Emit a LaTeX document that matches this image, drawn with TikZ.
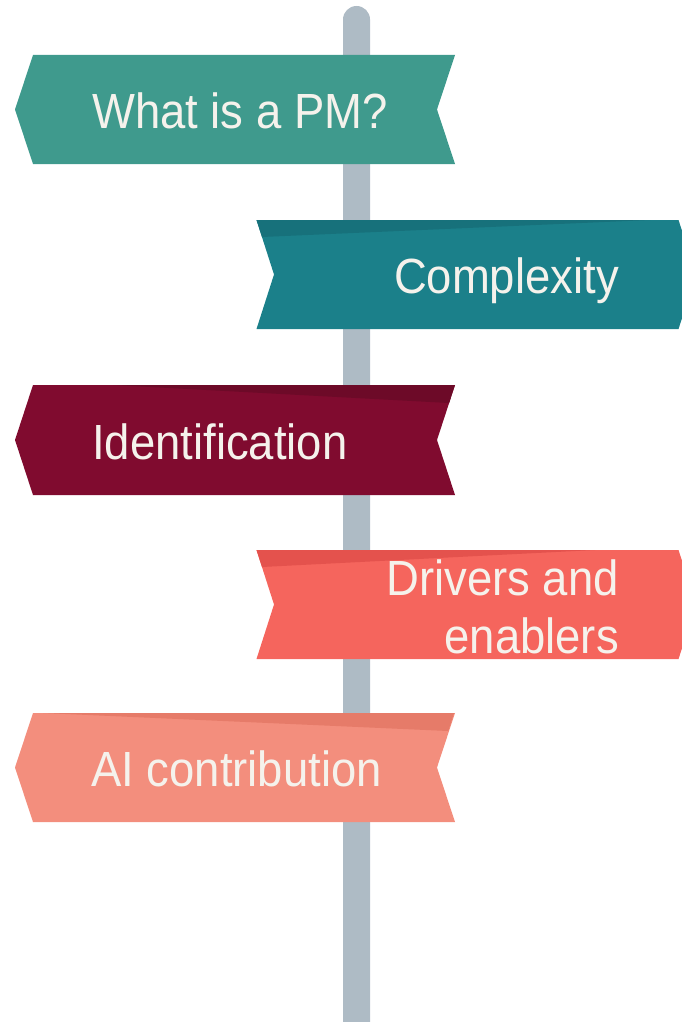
\documentclass[tikz,border=0pt]{standalone}
\usepackage{fontspec}
\setmainfont[FakeStretch=0.92]{Liberation Sans}
\definecolor{poleC}{HTML}{AEBBC5}
\definecolor{txtC}{HTML}{F5F2EC}
\definecolor{sA}{HTML}{3F9A8D}
\definecolor{sB}{HTML}{1B808A}
\definecolor{sBd}{HTML}{17717B}
\definecolor{sC}{HTML}{800B2F}
\definecolor{sCd}{HTML}{6D0A28}
\definecolor{sD}{HTML}{F5655D}
\definecolor{sDd}{HTML}{E4524D}
\definecolor{sE}{HTML}{F38E7D}
\definecolor{sEd}{HTML}{E67B69}
\tikzset{
  signtext/.style={inner sep=0pt, text=txtC, font=\fontsize{49.4}{58}\selectfont},
}
\newcommand{\leftsignpath}[3]{% fill, top, bottom
  \fill[#1] (33,#2) -- (455,#2) -- (437,{(#2+#3)/2}) -- (455,#3) -- (33,#3) -- (15,{(#2+#3)/2}) -- cycle;}
\newcommand{\rightsignpath}[3]{%
  \fill[#1] (256.5,#2) -- (678.5,#2) -- (696.5,{(#2+#3)/2}) -- (678.5,#3) -- (256.5,#3) -- (274,{(#2+#3)/2}) -- cycle;}
\begin{document}
\begin{tikzpicture}[x=1pt,y=-1pt]
\useasboundingbox (0,0) rectangle (682,1022);
\clip (0,0) rectangle (682,1022);
% pole
\fill[poleC] (343,1030) -- (343,19.5) arc[start angle=180,end angle=360,radius=13.5] -- (370,1030) -- cycle;
% sign 1
\leftsignpath{sA}{55}{164}
\node[signtext, anchor=base west] (pm) at (92,128.7) {What is a PM?};
% sign 2
\rightsignpath{sB}{220}{329}
\fill[sBd] (256.5,220) -- (650,220) -- (262,237) -- cycle;
\node[signtext, anchor=base east] (cx) at (619,293.3) {Complexity};
% sign 3
\leftsignpath{sC}{385}{495}
\fill[sCd] (113,385) -- (455,385) -- (449.1,403) -- cycle;
\node[signtext, anchor=base west] (id) at (92,459.3) {Identification};
% sign 4
\rightsignpath{sD}{550}{659}
\fill[sDd] (256.5,550) -- (595,550) -- (262,567) -- cycle;
\node[signtext, anchor=base east, align=right] (de) at (619,653) {Drivers and\\enablers};
% sign 5
\leftsignpath{sE}{713}{822}
\fill[sEd] (43,713) -- (454,713) -- (448.3,731) -- cycle;
\node[signtext, anchor=base west] (ai) at (91,786.7) {AI contribution};
\end{tikzpicture}
\end{document}
